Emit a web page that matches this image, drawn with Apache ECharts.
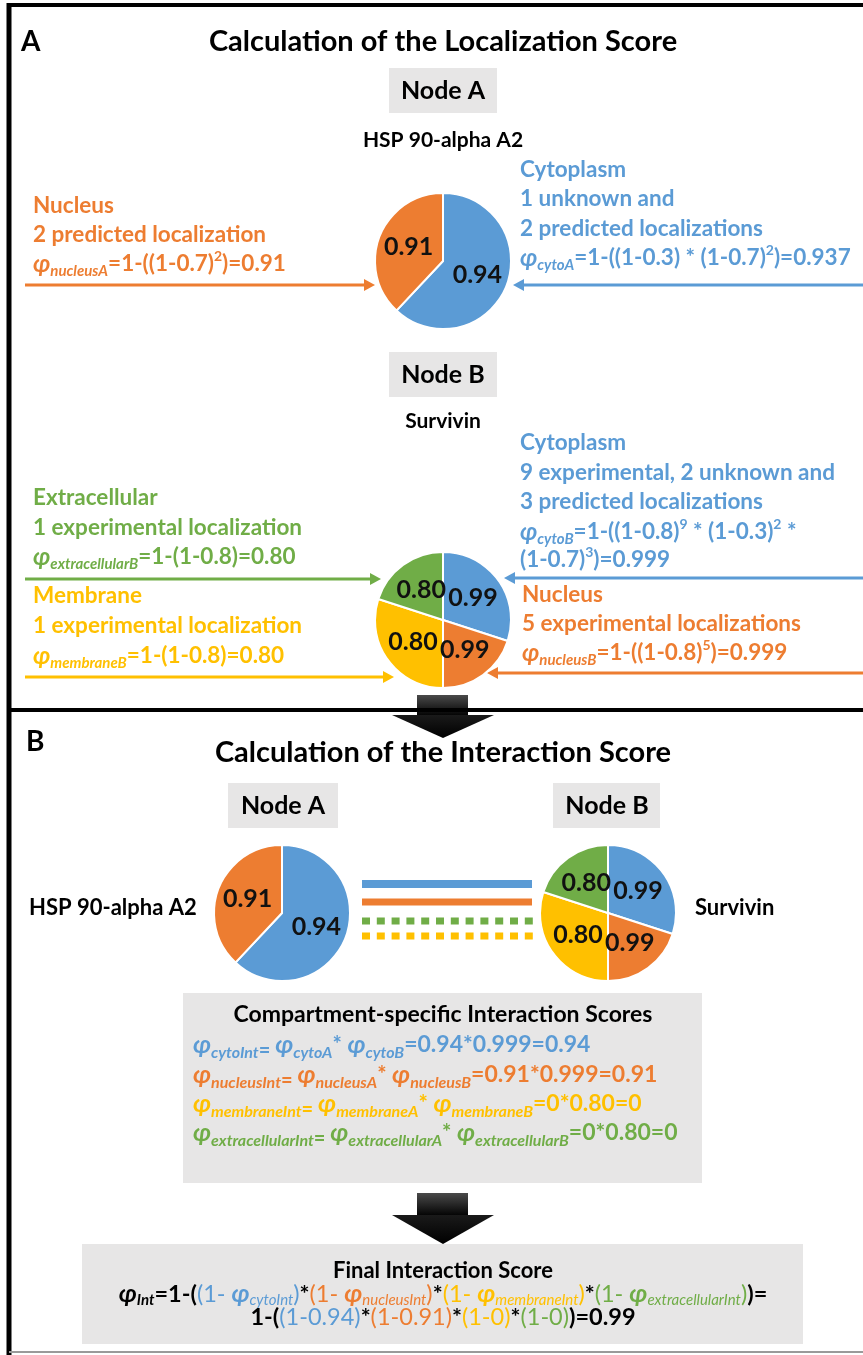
<!DOCTYPE html>
<html><head><meta charset="utf-8">
<script src="https://cdn.jsdelivr.net/npm/echarts@6/dist/echarts.min.js"></script>
<style>html,body{margin:0;padding:0;background:#fff}#c{width:863px;height:1355px}</style>
</head><body><div id="c"></div>
<script>
// ---- data ----
const nodeANames = ['Cytoplasm', 'Nucleus'];
const nodeAScores = ['0.94', '0.91'];
const nodeAShares = [62, 38];
const nodeBNames = ['Cytoplasm', 'Nucleus', 'Membrane', 'Extracellular'];
const nodeBScores = ['0.99', '0.99', '0.80', '0.80'];
const nodeBShares = [30, 20, 30, 20];
const interactionScores = ['0.94', '0.91', '0', '0'];
const finalScore = '0.99';

// ---- styling ----
const F = 'Lato, "DejaVu Sans", sans-serif';
const COLORS = { b: '#5B9BD5', o: '#ED7D31', y: '#FFC000', g: '#70AD47', k: '#000000' };
const SLICE = { Cytoplasm: '#5B9BD5', Nucleus: '#ED7D31', Membrane: '#FFC000', Extracellular: '#70AD47' };
const GRAY = '#E7E6E6';
const TA = 22.5; // section A text size

function makeRich(prefix, roles) {
  const r = {};
  for (const ck in COLORS) for (const role in roles)
    r[prefix + ck + role] = Object.assign({ fill: COLORS[ck], fontFamily: F }, roles[role]);
  return r;
}
const RICH_A = makeRich('a', {
  n: { fontSize: TA, fontWeight: 'bold', lineHeight: 30 },
  p: { fontSize: 24, fontWeight: 'bold', fontStyle: 'italic', lineHeight: 30 },
  s: { fontSize: 15, fontWeight: 'bold', fontStyle: 'italic', lineHeight: 16, verticalAlign: 'bottom' },
  u: { fontSize: 14, fontWeight: 'bold', lineHeight: 24, verticalAlign: 'top' }
});
const RICH_C = makeRich('c', {
  p: { fontSize: 25, fontWeight: 'bold', fontStyle: 'italic', lineHeight: 32 },
  s: { fontSize: 16, fontWeight: 'bold', fontStyle: 'italic', lineHeight: 16, verticalAlign: 'bottom' },
  e: { fontSize: 20, fontWeight: 'bold', lineHeight: 26, verticalAlign: 'bottom' },
  t: { fontSize: 22, fontWeight: 'bold', lineHeight: 32 },
  n: { fontSize: 23, fontWeight: 'bold', lineHeight: 32 }
});
const RICH_F = makeRich('f', {
  n: { fontSize: 23.5, fontWeight: 'bold', lineHeight: 28 },
  r: { fontSize: 23.5, fontWeight: 'normal', lineHeight: 28 },
  p: { fontSize: 25, fontWeight: 'bold', fontStyle: 'italic', lineHeight: 28 },
  s: { fontSize: 15, fontWeight: 'bold', fontStyle: 'italic', lineHeight: 14, verticalAlign: 'bottom' },
  q: { fontSize: 15, fontWeight: 'normal', fontStyle: 'italic', lineHeight: 14, verticalAlign: 'bottom' }
});
const RICH = Object.assign({}, RICH_A, RICH_C, RICH_F);

function rt(tokens) { return tokens.map(t => '{' + t[0] + '|' + t[1] + '}').join(''); }

const els = [];
function text(x, y, str, o) {
  o = o || {};
  els.push({
    type: 'text', x: x, y: y, z: 10,
    style: {
      text: str, fill: o.fill || '#000',
      font: o.font || ('bold ' + TA + 'px ' + F),
      align: o.align || 'left', textAlign: o.align || 'left',
      verticalAlign: 'middle', textVerticalAlign: 'middle',
      rich: RICH
    }
  });
}
function rect(x, y, w, h, fill) {
  els.push({ type: 'rect', z: 1, shape: { x: x, y: y, width: w, height: h }, style: { fill: fill } });
}
function arrow(x1, x2, y, color) {
  const dir = x2 > x1 ? 1 : -1;
  els.push({ type: 'line', z: 5, shape: { x1: x1, y1: y, x2: x2 - dir * 8, y2: y }, style: { stroke: color, lineWidth: 3 } });
  els.push({ type: 'polygon', z: 5, shape: { points: [[x2, y], [x2 - dir * 11, y - 6], [x2 - dir * 11, y + 6]] }, style: { fill: color } });
}
function bigArrow(top, stemH, headH) {
  els.push({ type: 'rect', z: 6, shape: { x: 417, y: top, width: 51, height: stemH },
    style: { fill: new echarts.graphic.LinearGradient(0, 0, 0, 1, [{ offset: 0, color: '#4a4a4a' }, { offset: 1, color: '#050505' }]) } });
  els.push({ type: 'polygon', z: 6, shape: { points: [[392, top + stemH], [494, top + stemH], [443, top + stemH + headH]] },
    style: { fill: new echarts.graphic.LinearGradient(0, 0, 0, 1, [{ offset: 0, color: '#1a1a1a' }, { offset: 1, color: '#000' }]) } });
}

// ---- frame (top, left, divider, thin bottom) ----
els.push({ type: 'line', z: 20, shape: { x1: 7, y1: 5, x2: 863, y2: 5 }, style: { stroke: '#000', lineWidth: 4 } });
els.push({ type: 'line', z: 20, shape: { x1: 9, y1: 3, x2: 9, y2: 1355 }, style: { stroke: '#000', lineWidth: 5 } });
els.push({ type: 'line', z: 20, shape: { x1: 7, y1: 710, x2: 863, y2: 710 }, style: { stroke: '#000', lineWidth: 4 } });
els.push({ type: 'line', z: 20, shape: { x1: 9, y1: 1352, x2: 863, y2: 1352 }, style: { stroke: '#9a9a9a', lineWidth: 2 } });

// ---- Section A ----
text(21, 42, 'A', { font: 'bold 28px ' + F });
text(443, 42, 'Calculation of the Localization Score', { font: 'bold 29px ' + F, align: 'center' });
rect(389, 68, 108, 45, GRAY);
text(443, 91, 'Node A', { font: 'bold 25px ' + F, align: 'center' });
text(443, 140, 'HSP 90-alpha A2', { font: 'bold 21px ' + F, align: 'center' });

// Nucleus (node A)
text(33, 206, 'Nucleus', { fill: COLORS.o });
text(33, 235, '2 predicted localization', { fill: COLORS.o });
text(33, 264, rt([['aop', 'φ'], ['aos', 'nucleusA'], ['aon', '=1-((1-0.7)'], ['aou', '2'], ['aon', ')=0.91']]));
arrow(25, 375, 285, COLORS.o);
// Cytoplasm (node A)
text(520, 170, 'Cytoplasm', { fill: COLORS.b });
text(520, 199, '1 unknown and', { fill: COLORS.b });
text(520, 229, '2 predicted localizations', { fill: COLORS.b });
text(520, 258, rt([['abp', 'φ'], ['abs', 'cytoA'], ['abn', '=1-((1-0.3) * (1-0.7)'], ['abu', '2'], ['abn', ')=0.937']]));
arrow(863, 513, 285, COLORS.b);

rect(389, 352, 108, 45, GRAY);
text(443, 375, 'Node B', { font: 'bold 25px ' + F, align: 'center' });
text(443, 421, 'Survivin', { font: 'bold 21px ' + F, align: 'center' });

// Cytoplasm (node B)
text(520, 443, 'Cytoplasm', { fill: COLORS.b });
text(520, 473, '9 experimental, 2 unknown and', { fill: COLORS.b });
text(520, 502, '3 predicted localizations', { fill: COLORS.b });
text(520, 532, rt([['abp', 'φ'], ['abs', 'cytoB'], ['abn', '=1-((1-0.8)'], ['abu', '9'], ['abn', ' * (1-0.3)'], ['abu', '2'], ['abn', ' *']]));
text(520, 560, rt([['abn', '(1-0.7)'], ['abu', '3'], ['abn', ')=0.999']]));
arrow(863, 504, 578, COLORS.b);
// Nucleus (node B)
text(522, 595, 'Nucleus', { fill: COLORS.o });
text(522, 624, '5 experimental localizations', { fill: COLORS.o });
text(522, 653, rt([['aop', 'φ'], ['aos', 'nucleusB'], ['aon', '=1-((1-0.8)'], ['aou', '5'], ['aon', ')=0.999']]));
arrow(863, 487, 673, COLORS.o);
// Extracellular (node B)
text(33, 498, 'Extracellular', { fill: COLORS.g });
text(33, 528, '1 experimental localization', { fill: COLORS.g });
text(33, 557, rt([['agp', 'φ'], ['ags', 'extracellularB'], ['agn', '=1-(1-0.8)=0.80']]));
arrow(25, 381, 579, COLORS.g);
// Membrane (node B)
text(33, 596, 'Membrane', { fill: COLORS.y });
text(33, 626, '1 experimental localization', { fill: COLORS.y });
text(33, 656, rt([['ayp', 'φ'], ['ays', 'membraneB'], ['ayn', '=1-(1-0.8)=0.80']]));
arrow(25, 394, 677, COLORS.y);

bigArrow(695, 20, 23);

// ---- Section B ----
text(26, 742, 'B', { font: 'bold 28px ' + F });
text(443, 753, 'Calculation of the Interaction Score', { font: 'bold 29px ' + F, align: 'center' });
rect(228, 783, 110, 45, GRAY);
text(283, 806, 'Node A', { font: 'bold 25px ' + F, align: 'center' });
rect(553, 783, 107, 45, GRAY);
text(607, 806, 'Node B', { font: 'bold 25px ' + F, align: 'center' });
text(29, 908, 'HSP 90-alpha A2', { font: 'bold 22px ' + F });
text(695, 908, 'Survivin', { font: 'bold 22px ' + F });

// connection lines
els.push({ type: 'line', z: 5, shape: { x1: 362, y1: 884, x2: 532, y2: 884 }, style: { stroke: COLORS.b, lineWidth: 8 } });
els.push({ type: 'line', z: 5, shape: { x1: 362, y1: 902, x2: 532, y2: 902 }, style: { stroke: COLORS.o, lineWidth: 7 } });
els.push({ type: 'line', z: 5, shape: { x1: 362, y1: 921, x2: 533, y2: 921 }, style: { stroke: COLORS.g, lineWidth: 7, lineDash: [8, 6.8] } });
els.push({ type: 'line', z: 5, shape: { x1: 362, y1: 936, x2: 533, y2: 936 }, style: { stroke: COLORS.y, lineWidth: 7, lineDash: [8, 6.8] } });

// compartment box
rect(183, 993, 519, 190, GRAY);
text(443, 1015, 'Compartment-specific Interaction Scores', { font: 'bold 23px ' + F, align: 'center' });
function compLine(y, c, name, val) {
  text(193, y, rt([
    ['c' + c + 'p', 'φ'], ['c' + c + 's', name + 'Int'], ['c' + c + 'e', '= '],
    ['c' + c + 'p', 'φ'], ['c' + c + 's', name + 'A'], ['c' + c + 't', '*'], ['c' + c + 'n', ' '],
    ['c' + c + 'p', 'φ'], ['c' + c + 's', name + 'B'], ['c' + c + 'n', val]
  ]));
}
compLine(1045, 'b', 'cyto', '=0.94*0.999=' + interactionScores[0]);
compLine(1075, 'o', 'nucleus', '=0.91*0.999=' + interactionScores[1]);
compLine(1104, 'y', 'membrane', '=0*0.80=' + interactionScores[2]);
compLine(1133, 'g', 'extracellular', '=0*0.80=' + interactionScores[3]);

bigArrow(1193, 22, 29);

// final box
rect(82, 1244, 721, 100, GRAY);
text(443, 1271, 'Final Interaction Score', { font: 'bold 22px ' + F, align: 'center' });
text(443, 1294, rt([
  ['fkp', 'φ'], ['fks', 'Int'], ['fkn', '=1-('],
  ['fbr', '(1- '], ['fbp', 'φ'], ['fbq', 'cytoInt'], ['fbr', ')'], ['fkn', '*'],
  ['for', '(1- '], ['fop', 'φ'], ['foq', 'nucleusInt'], ['for', ')'], ['fkn', '*'],
  ['fyr', '(1- '], ['fyp', 'φ'], ['fyq', 'membraneInt'], ['fyr', ')'], ['fkn', '*'],
  ['fgr', '(1- '], ['fgp', 'φ'], ['fgq', 'extracellularInt'], ['fgr', ')'], ['fkn', ')=']
]), { align: 'center' });
text(443, 1317, rt([
  ['fkn', '1-('], ['fbr', '(1-' + interactionScores[0] + ')'], ['fkn', '*'],
  ['for', '(1-' + interactionScores[1] + ')'], ['fkn', '*'],
  ['fyr', '(1-' + interactionScores[2] + ')'], ['fkn', '*'],
  ['fgr', '(1-' + interactionScores[3] + ')'], ['fkn', ')=' + finalScore]
]), { align: 'center' });

// ---- pies ----
function pie(center, names, shares, scores) {
  return {
    type: 'pie', center: center, radius: 68, startAngle: 90, clockwise: true,
    silent: true, animation: false, z: 8,
    itemStyle: { borderColor: '#fff', borderWidth: 2 },
    label: { show: true, position: 'inside', formatter: p => scores[p.dataIndex],
      color: '#111', fontSize: 25, fontWeight: 'bold', fontFamily: F },
    labelLine: { show: false }, emphasis: { disabled: true },
    data: names.map((n, i) => ({ name: n, value: shares[i], itemStyle: { color: SLICE[n] } }))
  };
}

const chart = echarts.init(document.getElementById('c'), null, { renderer: 'canvas' });
chart.setOption({
  backgroundColor: '#fff',
  animation: false,
  series: [
    pie([443, 261], nodeANames, nodeAShares, nodeAScores),
    pie([443, 620], nodeBNames, nodeBShares, nodeBScores),
    pie([282, 913], nodeANames, nodeAShares, nodeAScores),
    pie([608, 913], nodeBNames, nodeBShares, nodeBScores)
  ],
  graphic: { elements: els }
});
</script></body></html>
